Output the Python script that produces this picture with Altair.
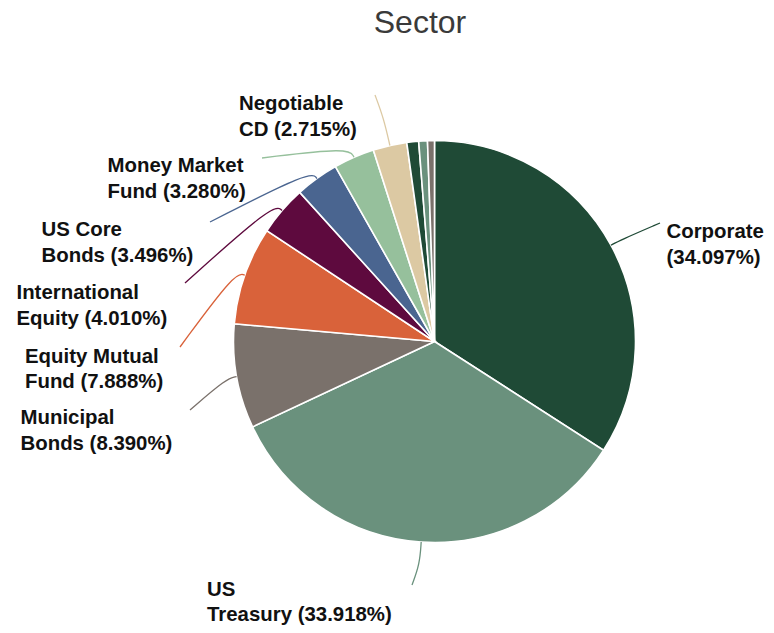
import math
import pandas as pd
import altair as alt

# ---------------- data ----------------
sectors = ["Corporate", "US Treasury", "Municipal Bonds", "Equity Mutual Fund",
           "International Equity", "US Core Bonds", "Money Market Fund",
           "Negotiable CD", "Other 1", "Other 2", "Other 3"]
values = [34.097, 33.918, 8.390, 7.888, 4.010, 3.496, 3.280, 2.715, 0.95, 0.70, 0.556]
colors = ["#1f4a36", "#6a917d", "#7a716b", "#d9623a", "#5e0a3e", "#4a6590",
          "#96c09c", "#dcc9a3", "#1f4a36", "#6a917d", "#7a716b"]

# label text split into two lines (first line, second line before the percentage)
label_first = ["Corporate", "US", "Municipal", "Equity Mutual", "International",
               "US Core", "Money Market", "Negotiable"]
label_second = ["", "Treasury", "Bonds", "Fund", "Equity", "Bonds", "Fund", "CD"]

# ---------------- layout (page pixels) ----------------
M = 8  # page margin
CX, CY, R = 434.5 - M, 341.5 - M, 201
label_x = [666.5, 207, 20.5, 25, 16.5, 41.5, 107.5, 239]
label_y = [238, 595.5, 424, 362.5, 299, 236, 172, 110]
leader_end_x = [660, 412, 190, 180, 185, 210, 262, 375]
leader_end_y = [223, 585, 410, 347, 283, 222, 158, 95]
elbow_off = [10, 22, 10, 10, 11, 10, 11, 28]

total = sum(values)
pie = pd.DataFrame({"sector": sectors, "value": values, "idx": range(len(sectors))})

# mid angles of slices (clockwise from 12 o'clock)
cum = 0.0
mids = []
for v in values:
    mids.append((cum + v / 2) / total * 2 * math.pi)
    cum += v

lines_rows = []
lab_rows = []
for i, first in enumerate(label_first):
    a = mids[i]
    sx, sy = CX + R * math.sin(a), CY - R * math.cos(a)
    re = R + elbow_off[i]
    ex, ey = CX + re * math.sin(a), CY - re * math.cos(a)
    tx, ty = leader_end_x[i] - M, leader_end_y[i] - M
    for k, (px, py) in enumerate([(sx, sy), (ex, ey), (tx, ty)]):
        lines_rows.append({"sector": sectors[i], "k": k, "px": px, "py": py})
    second = (label_second[i] + " " if label_second[i] else "") + f"({values[i]:.3f}%)"
    lab_rows.append({"sector": sectors[i], "label": first + "\n" + second,
                     "lx": label_x[i] - M, "ly": label_y[i] - M})

lines_df = pd.DataFrame(lines_rows)
lab_df = pd.DataFrame(lab_rows)

color_scale = alt.Scale(domain=sectors, range=colors)

arcs = alt.Chart(pie).mark_arc(outerRadius=R, stroke="white", strokeWidth=1.6).encode(
    theta=alt.Theta("value:Q", stack=True),
    color=alt.Color("sector:N", scale=color_scale, legend=None),
    order=alt.Order("idx:Q"),
    x=alt.value(CX),
    y=alt.value(CY),
)

leaders = alt.Chart(lines_df).mark_line(strokeWidth=1.3, interpolate="basis").encode(
    x=alt.X("px:Q", scale=None, axis=None),
    y=alt.Y("py:Q", scale=None, axis=None),
    color=alt.Color("sector:N", scale=color_scale, legend=None),
    detail="sector:N",
    order="k:Q",
)

labels = alt.Chart(lab_df).mark_text(
    align="left", baseline="alphabetic", font="Liberation Sans", fontWeight="bold",
    fontSize=20.4, lineBreak="\n", lineHeight=25.5, color="#111111",
).encode(
    x=alt.X("lx:Q", scale=None, axis=None),
    y=alt.Y("ly:Q", scale=None, axis=None),
    text="label:N",
)

title = alt.Chart(pd.DataFrame({"t": ["Sector"]})).mark_text(
    align="center", baseline="alphabetic", font="Liberation Sans", fontSize=32,
    color="#3a3a3a",
).encode(x=alt.value(420 - M), y=alt.value(32.5 - M), text="t:N")

chart = alt.layer(arcs, leaders, labels, title).properties(
    width=758, height=617, autosize="none", padding=0
).configure_view(strokeWidth=0)

chart.save("out.html", embed_options={"renderer": "svg", "actions": False})
